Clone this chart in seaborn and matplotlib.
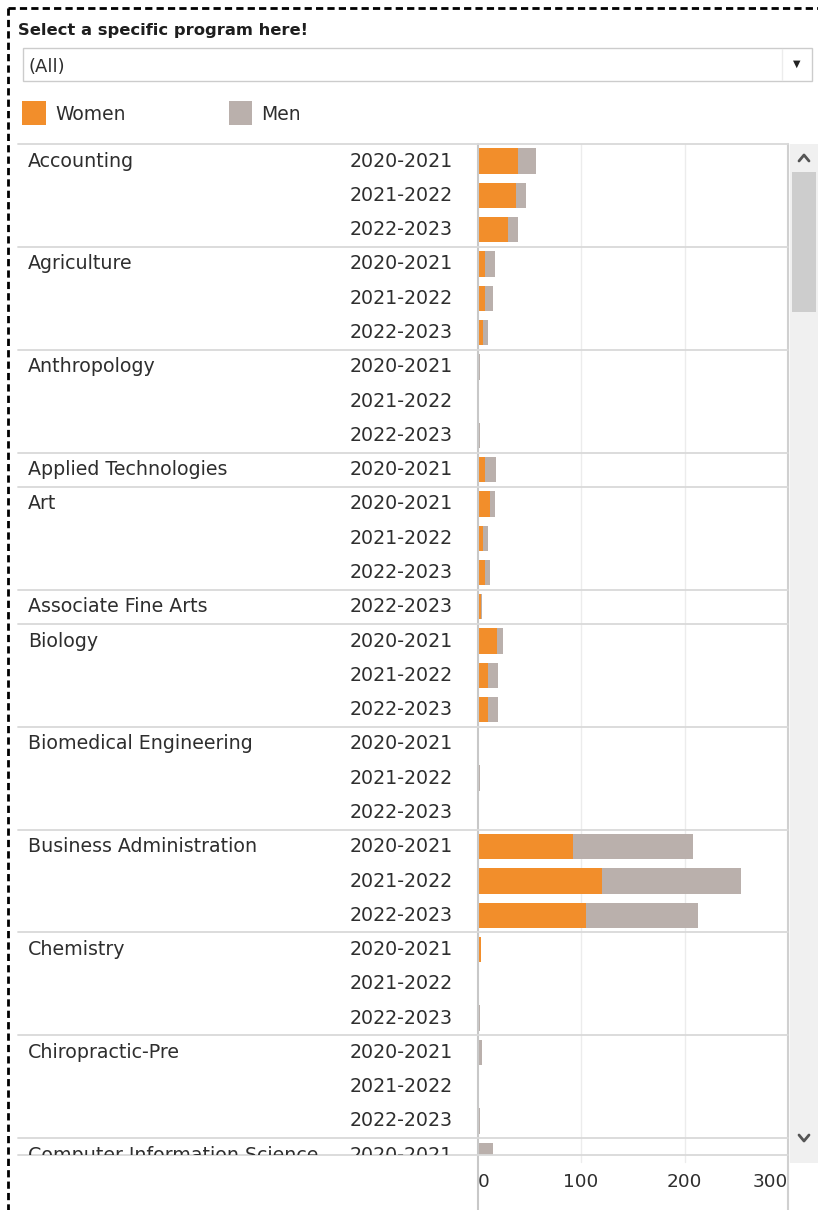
import numpy as np
import pandas as pd
import matplotlib.pyplot as plt
from matplotlib.patches import Rectangle
from matplotlib.lines import Line2D
import seaborn as sns

programs = ["Accounting", "Accounting", "Accounting",
            "Agriculture", "Agriculture", "Agriculture",
            "Anthropology", "Anthropology", "Anthropology",
            "Applied Technologies",
            "Art", "Art", "Art",
            "Associate Fine Arts",
            "Biology", "Biology", "Biology",
            "Biomedical Engineering", "Biomedical Engineering", "Biomedical Engineering",
            "Business Administration", "Business Administration", "Business Administration",
            "Chemistry", "Chemistry", "Chemistry",
            "Chiropractic-Pre", "Chiropractic-Pre", "Chiropractic-Pre",
            "Computer Information Science"]
years = ["2020-2021", "2021-2022", "2022-2023",
         "2020-2021", "2021-2022", "2022-2023",
         "2020-2021", "2021-2022", "2022-2023",
         "2020-2021",
         "2020-2021", "2021-2022", "2022-2023",
         "2022-2023",
         "2020-2021", "2021-2022", "2022-2023",
         "2020-2021", "2021-2022", "2022-2023",
         "2020-2021", "2021-2022", "2022-2023",
         "2020-2021", "2021-2022", "2022-2023",
         "2020-2021", "2021-2022", "2022-2023",
         "2020-2021"]
women = [39, 37, 29, 7, 7, 5, 0, 0, 0, 7, 12, 5, 7, 3, 19, 10, 10,
         0, 0, 0, 92, 120, 105, 3, 0, 0, 0, 0, 0, 1]
men = [18, 10, 10, 10, 8, 5, 2, 0, 2, 11, 5, 5, 5, 1, 6, 10, 10,
       0, 2, 0, 116, 135, 108, 0, 0, 2, 4, 0, 2, 14]
x_ticks = [0, 100, 200, 300]

ORANGE = "#f28e2b"
GRAY = "#bab0ac"
TXT = "#2e2e2e"
LINE = "#d9d9d9"

sns.set_style("white")
plt.rcParams['font.family'] = ['DejaVu Sans']

W, H = 818, 1210
fig = plt.figure(figsize=(W / 100, H / 100), dpi=100)
fig.patch.set_facecolor("white")


def fx(px):
    return px / W


def fy(py):
    return 1 - py / H


# layout in pixels
x0, x1 = 477.5, 788
top, bot = 144, 1155
pitch = 34.28
ybot = -0.5 + (bot - top) / pitch

ax = fig.add_axes([fx(x0), fy(bot), (x1 - x0) / W, (bot - top) / H])
lab = fig.add_axes([fx(18), fy(bot), (x0 - 18) / W, (bot - top) / H])

row_ids = [f"{p}|{y}" for p, y in zip(programs, years)]
df = pd.DataFrame({"row": row_ids, "Women": women, "Men": men})
df["Total"] = df["Women"] + df["Men"]

sns.barplot(data=df, x="Total", y="row", order=row_ids, orient="h",
            color=GRAY, saturation=1, width=0.74, linewidth=0, ax=ax)
sns.barplot(data=df, x="Women", y="row", order=row_ids, orient="h",
            color=ORANGE, saturation=1, width=0.74, linewidth=0, ax=ax)

ax.set_xlim(0, 300)
ax.set_ylim(ybot, -0.5)
ax.set_yticks([])
ax.set_ylabel("")
ax.set_xlabel("")
for s in ax.spines.values():
    s.set_visible(False)

ax.set_xticks(x_ticks)
ax.set_xticklabels([str(t) for t in x_ticks])
ax.tick_params(axis="x", length=0, pad=13, labelsize=13.3, colors=TXT)
tl = ax.get_xticklabels()
tl[0].set_horizontalalignment("left")
tl[-1].set_horizontalalignment("right")

# gridlines and borders
for v in x_ticks[1:]:
    ax.axvline(v, ymin=-7 / (bot - top), ymax=1, color="#ececec", lw=1,
               clip_on=False, zorder=0)
ax.axvline(0, ymin=-(H - bot) / (bot - top), ymax=1, color="#c8c8c8",
           lw=1.5, clip_on=False, zorder=3)
ax.axvline(300, ymin=-(H - bot) / (bot - top), ymax=1, color="#d0d0d0",
           lw=1.5, clip_on=False, zorder=3)

# group separators
starts = [i for i in range(len(programs)) if i == 0 or programs[i] != programs[i - 1]]
xmin = (18 - x0) / (x1 - x0)
for s in starts:
    ax.axhline(s - 0.5, xmin=xmin, xmax=1, color=LINE, lw=1.3, clip_on=False, zorder=4)
ax.axhline(ybot, xmin=xmin, xmax=1, color=LINE, lw=1.3, clip_on=False, zorder=4)

# row labels
lab.set_xlim(0, x0 - 18)
lab.set_ylim(ybot, -0.5)
lab.axis("off")
for i in range(len(programs)):
    if i in starts:
        lab.text(10, i, programs[i], fontsize=13.7, color=TXT, va="center",
                 ha="left", clip_on=True)
    lab.text(435, i, years[i], fontsize=13.7, color=TXT, va="center",
             ha="right", clip_on=True)

# header: filter title and dropdown
fig.text(fx(18), fy(31), "Select a specific program here!", fontsize=11.8,
         weight="bold", color="#1e1e1e", va="center")
fig.add_artist(Rectangle((fx(23), fy(81)), (812 - 23) / W, 33 / H,
                         transform=fig.transFigure, fc="white", ec="#cccccc", lw=1))
fig.add_artist(Line2D([fx(782), fx(782)], [fy(49), fy(80)],
                      transform=fig.transFigure, color="#ececec", lw=1))
fig.text(fx(28), fy(67), "(All)", fontsize=13, color=TXT, va="center")
fig.text(fx(797), fy(64), "\u25BC", fontsize=7, color="#222222",
         va="center", ha="center")

# legend
fig.add_artist(Rectangle((fx(22), fy(125)), 24 / W, 24 / H,
                         transform=fig.transFigure, fc=ORANGE, ec="none"))
fig.text(fx(55), fy(114), "Women", fontsize=13.5, color=TXT, va="center")
fig.add_artist(Rectangle((fx(229), fy(125)), 23 / W, 24 / H,
                         transform=fig.transFigure, fc=GRAY, ec="none"))
fig.text(fx(261), fy(114), "Men", fontsize=13.5, color=TXT, va="center")

# scrollbar
fig.add_artist(Rectangle((fx(790), fy(1163)), 28 / W, (1163 - 144) / H,
                         transform=fig.transFigure, fc="#f0f0f0", ec="none"))
fig.add_artist(Rectangle((fx(792), fy(312)), 24 / W, (312 - 172) / H,
                         transform=fig.transFigure, fc="#cdcdcd", ec="none"))
fig.add_artist(Line2D([fx(799), fx(804), fx(809)], [fy(161), fy(155), fy(161)],
                      transform=fig.transFigure, color="#555555", lw=2))
fig.add_artist(Line2D([fx(799), fx(804), fx(809)], [fy(1135), fy(1141), fy(1135)],
                      transform=fig.transFigure, color="#555555", lw=2))

# dashed outer border
for xs, ys in [([fx(8), 1], [fy(8), fy(8)]), ([fx(8), fx(8)], [fy(8), 0])]:
    ln = Line2D(xs, ys, transform=fig.transFigure, color="black", lw=2)
    ln.set_dashes([2.6, 1.5])
    fig.add_artist(ln)

fig.savefig("out.png", dpi=100)
